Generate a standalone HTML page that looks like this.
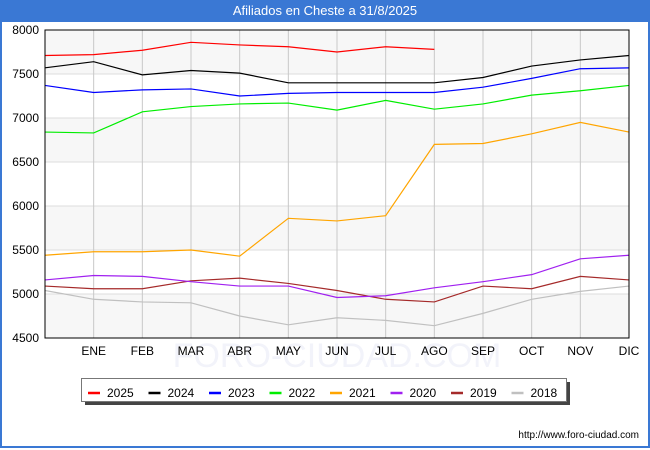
<!DOCTYPE html>
<html><head><meta charset="utf-8"><style>
body{margin:0;width:650px;height:450px;overflow:hidden;font-family:"Liberation Sans","DejaVu Sans",sans-serif;}
.frame{position:absolute;left:0;top:0;width:646px;height:446px;border:2px solid #3a78d4;border-top:none;background:#fff;}
.title{position:absolute;left:0;top:0;width:650px;height:22px;background:#3a78d4;color:#fff;font-size:13px;line-height:22px;text-align:center;}
</style></head><body>
<div class="frame"></div>
<div class="title">Afiliados en Cheste a 31/8/2025</div>
<svg id="chart" width="650" height="450" style="position:absolute;left:0;top:0"></svg>
<script>
const months=["","ENE","FEB","MAR","ABR","MAY","JUN","JUL","AGO","SEP","OCT","NOV","DIC"];
const yTicks=[4500,5000,5500,6000,6500,7000,7500,8000];
const years=["2025","2024","2023","2022","2021","2020","2019","2018"];
const colors=["#ff0000","#000000","#0000ff","#00ee00","#ffa500","#a020f0","#a52a2a","#c0c0c0"];
const s2025=[7710,7720,7770,7860,7830,7810,7750,7810,7780];
const s2024=[7570,7640,7490,7540,7510,7400,7400,7400,7400,7460,7590,7660,7710];
const s2023=[7370,7290,7320,7330,7250,7280,7290,7290,7290,7350,7450,7560,7570];
const s2022=[6840,6830,7070,7130,7160,7170,7090,7200,7100,7160,7260,7310,7370];
const s2021=[5440,5480,5480,5500,5430,5860,5830,5890,6700,6710,6820,6950,6840];
const s2020=[5160,5210,5200,5140,5090,5090,4960,4980,5070,5140,5220,5400,5440];
const s2019=[5090,5060,5060,5150,5180,5120,5040,4940,4910,5090,5060,5200,5160];
const s2018=[5040,4940,4910,4900,4750,4650,4730,4700,4640,4780,4940,5030,5090];
const series=[s2025,s2024,s2023,s2022,s2021,s2020,s2019,s2018];
const L=45,R=629,T=30,B=338,ymin=4500,ymax=8000;
const xs=i=>L+(R-L)*i/12;
const ys=v=>B-(v-ymin)/(ymax-ymin)*(B-T);
const svg=document.getElementById('chart');
const NS="http://www.w3.org/2000/svg";
function mk(t,a){const e=document.createElementNS(NS,t);for(const k in a)e.setAttribute(k,a[k]);svg.appendChild(e);return e;}
for(let i=0;i<yTicks.length-1;i++){
 if(i%2===0){const b=mk('rect',{x:L,y:ys(yTicks[i+1]),width:R-L,height:ys(yTicks[i])-ys(yTicks[i+1]),fill:'#f7f7f7'});
 
 }
}
const wm=mk('text',{x:337,y:367,'text-anchor':'middle','font-size':34,fill:'#f2f3fa'});wm.textContent='FORO-CIUDAD.COM';


yTicks.forEach(v=>{
 const g=mk('line',{x1:L,x2:R,y1:ys(v),y2:ys(v),stroke:'#dddddd','stroke-width':1});
 
 
 const t=mk('text',{x:L-6,y:ys(v)+4,'text-anchor':'end','font-size':12,fill:'#000'});t.textContent=v;
 
 
});
months.forEach((m,i)=>{
 if(i>0){const g=mk('line',{x1:xs(i),x2:xs(i),y1:T,y2:B,stroke:'#c8c8c8','stroke-width':1});
 
 }
 const t=mk('text',{x:xs(i),y:B+17,'text-anchor':'middle','font-size':12,fill:'#000'});t.textContent=m;
 
 
});
for(let s=series.length-1;s>=0;s--){
 const p=mk('polyline',{points:series[s].map((v,i)=>xs(i)+','+ys(v)).join(' '),fill:'none',stroke:colors[s],'stroke-width':1.2});
 
 
}
const fr=mk('rect',{x:L,y:T,width:R-L,height:B-T,fill:'none',stroke:'#000','stroke-width':1});


const sh=mk('rect',{x:85,y:382,width:485,height:23,fill:'#444'});


const lg=mk('rect',{x:81.5,y:378.5,width:485,height:23,fill:'#fff',stroke:'#777'});


years.forEach((y,i)=>{
 const x0=88+i*60.5;
 const l=mk('line',{x1:x0,x2:x0+12,y1:393,y2:393,stroke:colors[i],'stroke-width':2.5});
 
 
 const t=mk('text',{x:x0+19,y:397,'font-size':12,fill:'#000'});t.textContent=y;
 
 
});
const u=mk('text',{x:639,y:438,'text-anchor':'end','font-size':10,fill:'#000'});u.textContent='http://www.foro-ciudad.com';


</script>
</body></html>
